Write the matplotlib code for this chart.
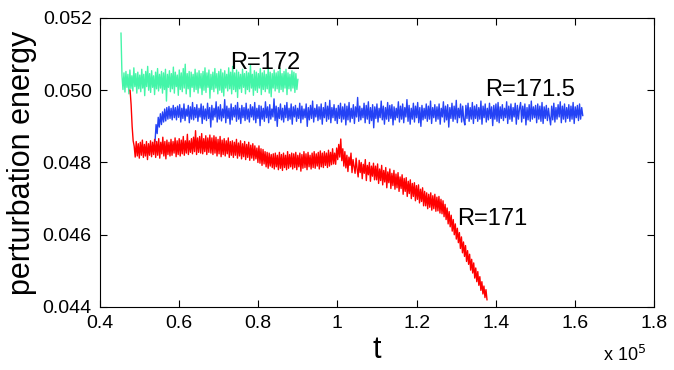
import numpy as np
import matplotlib
matplotlib.use("Agg")
import matplotlib.pyplot as plt

plt.rcParams['font.family'] = ['Liberation Sans', 'DejaVu Sans']

# time axis in units of 1e5, energies in units of 1e-5
t_range_172 = (0.453, 0.900)
t_range_1715 = (0.539, 1.620)
t_range_171 = (0.476, 1.378)

energy_172 = [
    5158, 5040, 5002, 5048, 4995, 5052, 5008, 5044, 4990, 5056, 5005, 5040, 4998, 5062, 5010, 5046, 4992, 5050, 5004, 5042,
    4996, 5058, 5006, 5044, 4985, 5052, 5010, 5066, 5000, 5046, 4994, 5054, 5008, 5040, 4988, 5050, 5004, 5060, 4998, 5044,
    5006, 5052, 4992, 5048, 5002, 5058, 4970, 5044, 5008, 5054, 4996, 5046, 5004, 5064, 4992, 5050, 5010, 5042, 4986, 5056,
    5002, 5048, 4996, 5060, 5006, 5072, 4990, 5046, 5004, 5052, 4982, 5050, 5008, 5044, 4996, 5058, 5002, 5048, 4992, 5054,
    5006, 5046, 4988, 5052, 5000, 5062, 4994, 5048, 5008, 5056, 4978, 5044, 5002, 5050, 4996, 5060, 5006, 5046, 4990, 5052,
    5000, 5058, 4994, 5048, 4984, 5054, 5006, 5044, 4998, 5062, 5004, 5050, 4990, 5066, 5002, 5048, 4996, 5056, 4980, 5050,
    5004, 5044, 4994, 5058, 5008, 5046, 4990, 5052, 5002, 5048, 4996, 5070, 5006, 5044, 4986, 5054, 5000, 5050, 4994, 5046,
    5006, 5060, 4988, 5048, 5002, 5054, 4996, 5044, 5004, 5064, 4992, 5050, 4982, 5046, 5006, 5056, 4998, 5048, 5004, 5052,
    4994, 5060, 5002, 5046, 4996, 5052, 5006, 5058, 4988, 5048, 5004, 5044, 4998, 5054, 5006, 5050, 4994, 5046, 5002, 5030,
]

energy_1715 = [
    4858, 4905, 4880, 4925, 4898, 4935, 4905, 4940, 4912, 4948, 4915, 4952, 4920, 4955, 4922, 4950, 4918, 4958, 4924, 4952,
    4918, 4956, 4925, 4960, 4912, 4950, 4922, 4962, 4916, 4948, 4928, 4958, 4910, 4954, 4920, 4966, 4918, 4952, 4924, 4960,
    4914, 4950, 4926, 4962, 4908, 4956, 4920, 4948, 4916, 4964, 4922, 4952, 4898, 4958, 4918, 4950, 4926, 4968, 4912, 4954,
    4920, 4960, 4915, 4948, 4924, 4974, 4910, 4956, 4922, 4950, 4906, 4962, 4918, 4952, 4926, 4958, 4914, 4966, 4920, 4950,
    4908, 4958, 4924, 4952, 4916, 4964, 4920, 4948, 4912, 4960, 4926, 4954, 4918, 4966, 4910, 4950, 4922, 4958, 4902, 4956,
    4920, 4950, 4914, 4968, 4924, 4954, 4910, 4960, 4920, 4948, 4926, 4976, 4916, 4956, 4900, 4952, 4922, 4962, 4918, 4950,
    4912, 4958, 4924, 4966, 4916, 4950, 4920, 4962, 4906, 4954, 4926, 4958, 4914, 4950, 4922, 4964, 4910, 4956, 4920, 4948,
    4924, 4962, 4900, 4952, 4918, 4958, 4922, 4970, 4912, 4950, 4926, 4960, 4916, 4954, 4920, 4962, 4906, 4952, 4924, 4966,
    4914, 4956, 4920, 4972, 4910, 4952, 4924, 4960, 4916, 4950, 4908, 4958, 4922, 4964, 4912, 4954, 4920, 4962, 4904, 4956,
    4918, 4966, 4912, 4950, 4922, 4960, 4908, 4954, 4926, 4980, 4914, 4956, 4918, 4950, 4924, 4964, 4910, 4958, 4920, 4968,
    4908, 4952, 4916, 4960, 4896, 4954, 4922, 4962, 4912, 4950, 4924, 4970, 4918, 4956, 4906, 4952, 4920, 4966, 4914, 4958,
    4922, 4960, 4904, 4954, 4918, 4950, 4924, 4968, 4912, 4956, 4920, 4962, 4910, 4952, 4926, 4974, 4914, 4958, 4906, 4950,
    4920, 4964, 4912, 4956, 4924, 4966, 4910, 4952, 4900, 4958, 4918, 4950, 4922, 4962, 4914, 4956, 4920, 4970, 4908, 4952,
    4924, 4960, 4914, 4954, 4920, 4962, 4906, 4950, 4926, 4968, 4912, 4956, 4918, 4960, 4898, 4952, 4922, 4964, 4914, 4956,
    4920, 4972, 4910, 4950, 4924, 4962, 4912, 4956, 4918, 4904, 4958, 4922, 4964, 4914, 4952, 4920, 4966, 4908, 4956, 4922,
    4960, 4914, 4952, 4920, 4970, 4906, 4956, 4924, 4962, 4912, 4950, 4918, 4964, 4922, 4954, 4902, 4958, 4920, 4962, 4914,
    4966, 4910, 4954, 4922, 4960, 4916, 4950, 4924, 4968, 4908, 4956, 4920, 4962, 4914, 4952, 4926, 4964, 4906, 4958, 4920,
    4950, 4966, 4912, 4956, 4922, 4962, 4904, 4952, 4918, 4960, 4914, 4970, 4920, 4954, 4924, 4958, 4910, 4962, 4920, 4956,
    4914, 4966, 4908, 4954, 4922, 4958, 4916, 4950, 4924, 4904, 4956, 4918, 4964, 4912, 4952, 4920, 4960, 4926, 4968, 4910,
    4956, 4920, 4962, 4912, 4952, 4922, 4960, 4914, 4956, 4920, 4966, 4908, 4954, 4924, 4958, 4916, 4962, 4920, 4952, 4930,
]

energy_171 = [
    5000, 4960, 4900, 4860, 4845, 4815, 4858, 4818, 4852, 4812, 4856, 4820, 4862, 4814, 4850, 4818, 4858, 4808, 4852, 4820,
    4860, 4816, 4856, 4822, 4864, 4814, 4858, 4820, 4866, 4812, 4856, 4824, 4870, 4818, 4858, 4810, 4862, 4822, 4856, 4818,
    4864, 4820, 4858, 4826, 4868, 4816, 4860, 4822, 4866, 4818, 4862, 4824, 4872, 4820, 4860, 4826, 4878, 4822, 4860, 4828,
    4866, 4824, 4870, 4830, 4888, 4822, 4868, 4828, 4872, 4826, 4880, 4824, 4866, 4830, 4874, 4822, 4868, 4828, 4876, 4826,
    4868, 4822, 4874, 4826, 4870, 4818, 4864, 4824, 4872, 4816, 4862, 4822, 4866, 4818, 4860, 4824, 4868, 4814, 4858, 4820,
    4860, 4814, 4856, 4820, 4864, 4812, 4854, 4818, 4860, 4810, 4852, 4816, 4858, 4808, 4850, 4814, 4856, 4806, 4848, 4812,
    4852, 4806, 4846, 4810, 4840, 4800, 4846, 4798, 4838, 4792, 4836, 4796, 4830, 4788, 4828, 4784, 4826, 4790, 4822, 4786,
    4824, 4782, 4826, 4788, 4820, 4780, 4828, 4784, 4822, 4778, 4826, 4786, 4820, 4780, 4830, 4784, 4822, 4788, 4826, 4782,
    4824, 4786, 4828, 4780, 4820, 4788, 4826, 4776, 4822, 4784, 4830, 4786, 4824, 4780, 4828, 4788, 4820, 4782, 4826, 4786,
    4830, 4784, 4824, 4790, 4828, 4782, 4832, 4788, 4826, 4786, 4830, 4792, 4826, 4786, 4834, 4790, 4828, 4794, 4838, 4796,
    4826, 4795, 4840, 4808, 4850, 4815, 4865, 4805, 4838, 4790, 4830, 4785, 4820, 4775, 4815, 4792, 4826, 4772, 4808, 4788,
    4770, 4812, 4782, 4760, 4806, 4772, 4800, 4755, 4795, 4770, 4808, 4750, 4792, 4766, 4800, 4748, 4790, 4762, 4798, 4752,
    4790, 4752, 4796, 4742, 4782, 4750, 4792, 4738, 4778, 4746, 4786, 4730, 4774, 4744, 4782, 4728, 4770, 4736, 4778, 4726,
    4768, 4730, 4772, 4720, 4760, 4728, 4766, 4712, 4756, 4720, 4758, 4706, 4748, 4714, 4752, 4700, 4742, 4706, 4744, 4694,
    4736, 4698, 4738, 4688, 4726, 4692, 4730, 4680, 4720, 4680, 4716, 4672, 4712, 4676, 4716, 4668, 4708, 4672, 4712, 4665,
    4704, 4666, 4706, 4660, 4698, 4658, 4694, 4650, 4684, 4642, 4674, 4630, 4664, 4622, 4654, 4610, 4642, 4600, 4630, 4588,
    4618, 4578, 4606, 4562, 4594, 4550, 4580, 4540, 4570, 4526, 4556, 4518, 4546, 4502, 4532, 4494, 4522, 4480, 4508, 4470,
    4498, 4460, 4484, 4446, 4470, 4436, 4458, 4426, 4448, 4420,
]

labels = ["R=172", "R=171.5", "R=171"]
label_pos = [(0.7285, 0.05059), (1.373, 0.04984), (1.302, 0.04627)]
colors = ["#44f5a8", "#2442f5", "#ff0000"]

fig = plt.figure(figsize=(6.74, 3.70), dpi=100)
ax = fig.add_axes([0.1484, 0.1703, 0.8219, 0.7811])

series = [(t_range_172, energy_172), (t_range_1715, energy_1715), (t_range_171, energy_171)]
for ((t0, t1), e), c in zip(series, colors):
    t = np.linspace(t0, t1, len(e))
    ax.plot(t, np.array(e) * 1e-5, color=c, lw=1.0)

for txt, (x, y) in zip(labels, label_pos):
    ax.text(x, y, txt, fontsize=17, ha='left', va='baseline')

ax.set_xlim(0.4, 1.8)
ax.set_ylim(0.044, 0.052)
ax.set_xticks(np.arange(0.4, 1.81, 0.2))
ax.set_xticklabels(["0.4", "0.6", "0.8", "1", "1.2", "1.4", "1.6", "1.8"])
ax.set_yticks([0.044, 0.046, 0.048, 0.050, 0.052])
ax.set_yticklabels(["0.044", "0.046", "0.048", "0.050", "0.052"])
ax.tick_params(direction='in', top=True, right=True, length=5, labelsize=14, pad=6)
for s in ax.spines.values():
    s.set_linewidth(0.8)

ax.set_xlabel("t", fontsize=22, labelpad=2)
ax.set_ylabel("perturbation energy", fontsize=22, labelpad=4)
fig.text(0.895, 0.025, r"x 10$^5$", fontsize=13)

fig.savefig("out.png", dpi=100)
